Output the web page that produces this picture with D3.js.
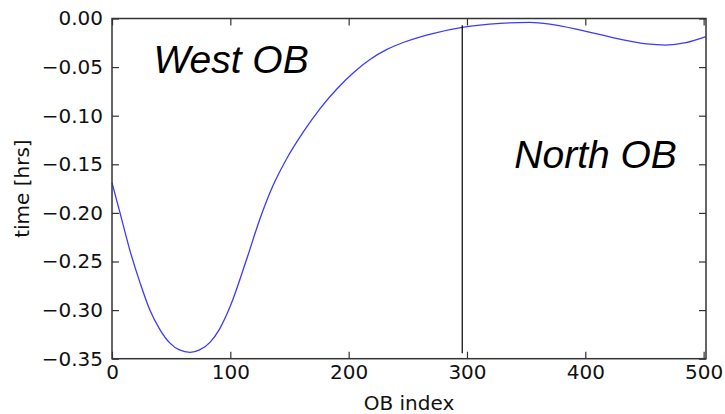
<!DOCTYPE html>
<html>
<head>
<meta charset="utf-8">
<script src="https://cdn.jsdelivr.net/npm/d3@7"></script>
<style>
  html, body { margin: 0; padding: 0; background: #fff; }
  svg { display: block; }
</style>
</head>
<body>
<svg id="chart" width="725" height="414"></svg>
<script>
// ---- data ----
const obIndex = [0, 7, 15, 24, 32, 40.5, 49, 57, 66, 74, 83, 91, 100, 114, 125, 136, 147.5, 162, 176, 190, 204, 218, 232, 246, 260, 271, 296, 328, 353, 370, 398, 426, 452, 468, 485, 502];
const timeHrs = [-0.169, -0.201, -0.238, -0.273, -0.300, -0.320, -0.334, -0.341, -0.3434, -0.3410, -0.3329, -0.3193, -0.2959, -0.2469, -0.2062, -0.1721, -0.1445, -0.1162, -0.0924, -0.0725, -0.0557, -0.0421, -0.0320, -0.0247, -0.0191, -0.0155, -0.0092, -0.005, -0.004, -0.0057, -0.0125, -0.0204, -0.0262, -0.0273, -0.0249, -0.0187];
const xTicks = [0, 100, 200, 300, 400, 500];
const yTicks = [0, -0.05, -0.10, -0.15, -0.20, -0.25, -0.30, -0.35];
const dividerX = [296];
const dividerY = [-0.3445, -0.007];
const regionLabels = ["West OB", "North OB"];
const regionLabelPos = [[35, -0.056], [340, -0.154]];
const xLabel = "OB index";
const yLabel = "time [hrs]";

// ---- layout ----
const L = 112, R = 706, T = 18.5, B = 358.7;
const svg = d3.select("#chart");
const x = d3.scaleLinear().domain([0, 502]).range([L, R]);
const y = d3.scaleLinear().domain([-0.35, 0]).range([B, T]);
const axisFont = "'DejaVu Sans', sans-serif";
const fmt = d3.format(".2f");

// curve
const line = d3.line().x((d, i) => x(obIndex[i])).y(d => y(d)).curve(d3.curveMonotoneX);
svg.append("path").datum(timeHrs)
  .attr("d", line)
  .attr("fill", "none")
  .attr("stroke", "#3a3aff")
  .attr("stroke-width", 1.3);

// divider line
svg.append("line")
  .attr("x1", x(dividerX[0])).attr("x2", x(dividerX[0]))
  .attr("y1", y(dividerY[0])).attr("y2", y(dividerY[1]))
  .attr("stroke", "#000").attr("stroke-width", 1.2);

// axes
function styleAxis(g) {
  g.select(".domain").remove();
  g.selectAll(".tick line").attr("stroke", "#333").attr("stroke-width", 1.2);
  g.selectAll(".tick text").attr("fill", "#111").style("font-family", axisFont).style("font-size", "20px");
}
svg.append("g").attr("transform", `translate(0,${B})`)
  .call(d3.axisBottom(x).tickValues(xTicks).tickSize(-7).tickPadding(6).tickFormat(d3.format("d")))
  .call(styleAxis);
svg.append("g").attr("transform", `translate(0,${T})`)
  .call(d3.axisTop(x).tickValues(xTicks).tickSize(-7).tickFormat(""))
  .call(styleAxis);
svg.append("g").attr("transform", `translate(${L},0)`)
  .call(d3.axisLeft(y).tickValues(yTicks).tickSize(-7).tickPadding(9).tickFormat(d => fmt(d === 0 ? 0 : d)))
  .call(styleAxis);
svg.append("g").attr("transform", `translate(${R},0)`)
  .call(d3.axisRight(y).tickValues(yTicks).tickSize(-7).tickFormat(""))
  .call(styleAxis);

// frame
svg.append("rect")
  .attr("x", L).attr("y", T).attr("width", R - L).attr("height", B - T)
  .attr("fill", "none").attr("stroke", "#333").attr("stroke-width", 1.5);

// axis labels
svg.append("text")
  .attr("x", (L + R) / 2).attr("y", 410)
  .attr("text-anchor", "middle")
  .style("font-family", axisFont).style("font-size", "20px").attr("fill", "#111")
  .text(xLabel);
svg.append("text")
  .attr("transform", `translate(29,${(T + B) / 2}) rotate(-90)`)
  .attr("text-anchor", "middle")
  .style("font-family", axisFont).style("font-size", "20px").attr("fill", "#111")
  .text(yLabel);

// region labels
svg.selectAll("text.region").data(regionLabels).enter().append("text")
  .attr("class", "region")
  .attr("x", (d, i) => x(regionLabelPos[i][0]))
  .attr("y", (d, i) => y(regionLabelPos[i][1]))
  .style("font-family", "'Liberation Sans', Arial, sans-serif")
  .style("font-style", "italic")
  .style("font-size", "39px")
  .attr("fill", "#000")
  .text(d => d);
</script>
</body>
</html>
